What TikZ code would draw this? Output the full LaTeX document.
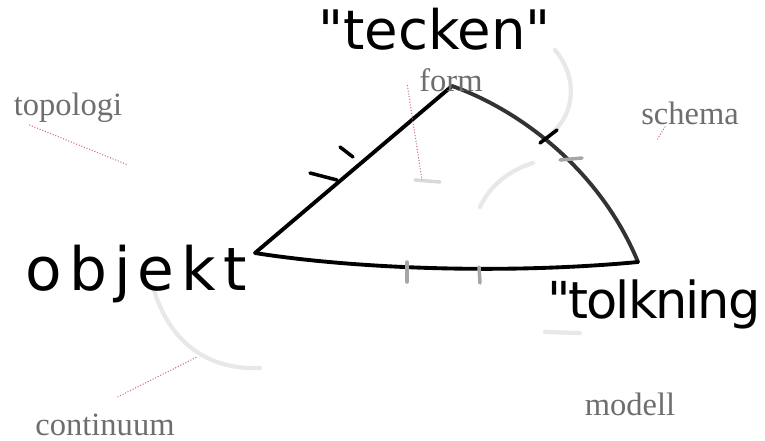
\documentclass[tikz,border=0pt]{standalone}
\usepackage{fontspec}
\setmainfont{Liberation Serif}
\newfontfamily\handfont[LetterSpace=12]{DejaVu Sans}
\newfontfamily\handtight{DejaVu Sans}
\newfontfamily\handnarrow[LetterSpace=-4]{DejaVu Sans}
\definecolor{lblgrey}{RGB}{110,110,110}
\definecolor{leaderpink}{RGB}{205,110,140}
\definecolor{ghost}{RGB}{232,232,232}
\usetikzlibrary{calc}

\tikzset{
  hand/.style={inner sep=0pt,anchor=base west},
  lbl/.style={text=lblgrey,font=\fontsize{18.5}{20}\selectfont,inner sep=1pt},
  leader/.style={leaderpink,densely dotted,line width=0.6pt},
  edge/.style={line width=2.2pt,line cap=round,line join=round},
  tick/.style={line width=2pt,line cap=round},
  ghostline/.style={ghost,line width=2.4pt,line cap=round}
}

\begin{document}
\begin{tikzpicture}
  \useasboundingbox (0,0) rectangle (15.3,-8.8);
  % corners of the triangle
  \coordinate (tecken) at (9.04,-1.72);
  \coordinate (objekt) at (5.10,-5.06);
  \coordinate (tolkning) at (12.76,-5.24);
  % faint circles behind
  \draw[ghostline] (3.06,-5.74) .. controls (3.4,-6.9) and (4.2,-7.4) .. (5.2,-7.36);
  \draw[ghostline] (11.1,-1.0) .. controls (11.6,-1.6) and (11.5,-2.4) .. (10.86,-2.8);
  \draw[ghostline] (9.6,-4.14) .. controls (9.8,-3.7) and (10.2,-3.4) .. (10.66,-3.26);
  \draw[ghostline] (10.9,-6.64) -- (11.6,-6.66);
  % the three sides
  \draw[edge] (objekt) -- (tecken);
  \draw[edge,black!80] (tecken) .. controls (10.4,-2.2) and (12.0,-3.4) .. (tolkning);
  \draw[edge] (objekt) .. controls (7.0,-5.36) and (10.0,-5.5) .. (tolkning);
  % crossings of the circles
  \draw[tick] (6.8,-2.94) -- (7.06,-3.14);
  \draw[tick] (6.2,-3.46) -- (6.74,-3.6);
  \draw[tick] (10.8,-2.86) -- (11.14,-2.6);
  \foreach \a/\b in {{(11.2,-3.2)}/{(11.64,-3.16)},{(8.14,-5.24)}/{(8.14,-5.64)},{(9.58,-5.34)}/{(9.6,-5.66)}}
    {\draw[tick,black!35] \a -- \b;}
  \draw[tick,black!15] (8.3,-3.6) -- (8.8,-3.64);
  % handwritten names
  \node[hand,text depth=0pt] (tecken-txt) at (6.36,-0.98) {\handtight\fontsize{31}{36}\selectfont "tecken"};
  \node[hand] (objekt-txt) at (0.5,-5.8) {\handfont\fontsize{34}{38}\selectfont objekt};
  \node[hand] (tolkning-txt) at (10.94,-6.36) {\handnarrow\fontsize{29}{34}\selectfont "tolkning};
  % grey labels
  \node[lbl] (topologi) at (1.36,-2.16) {topologi};
  \node[lbl] (form) at (9.02,-1.6) {form};
  \node[lbl] (schema) at (13.8,-2.26) {schema};
  \node[lbl] (continuum) at (2.1,-8.5) {continuum};
  \node[lbl] (modell) at (12.6,-8.08) {modell};
  \coordinate (topologi-end) at (2.56,-3.3);
  \coordinate (form-end) at (8.44,-3.6);
  \coordinate (schema-end) at (13.14,-2.8);
  \coordinate (continuum-end) at (3.94,-7.14);
  \draw[leader] ([xshift=0.35cm]topologi.south west) -- (topologi-end);
  \draw[leader] ([xshift=-0.2cm,yshift=-0.1cm]form.west) -- (form-end);
  \draw[leader] ([xshift=0.52cm]schema.south west) -- (schema-end);
  \draw[leader] ([xshift=0.25cm,yshift=0.3cm]continuum.north) -- (continuum-end);
\end{tikzpicture}
\end{document}
